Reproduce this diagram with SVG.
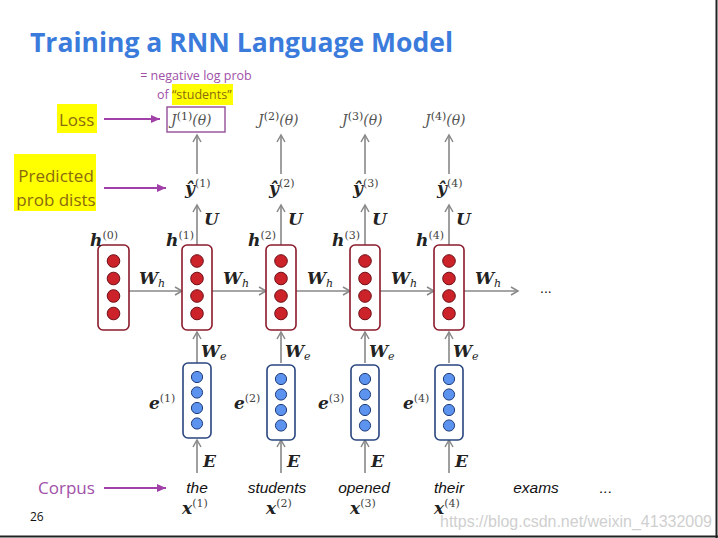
<svg xmlns="http://www.w3.org/2000/svg" width="718" height="538" viewBox="0 0 718 538">
<defs>
<marker id="ag" markerWidth="10" markerHeight="10" refX="8" refY="5" orient="auto" markerUnits="userSpaceOnUse"><path d="M1,1 L8,5 L1,9" fill="none" stroke="#888" stroke-width="1.5"/></marker>
<marker id="ap" markerWidth="10" markerHeight="10" refX="9" refY="5" orient="auto" markerUnits="userSpaceOnUse"><path d="M0,1 L9,5 L0,9 Z" fill="#a040a8"/></marker>
<g id="hcircs"><circle cx="0" cy="0" r="6.3"/><circle cx="0" cy="17.5" r="6.3"/><circle cx="0" cy="35" r="6.3"/><circle cx="0" cy="52.5" r="6.3"/></g>
<g id="ecircs"><circle cx="0" cy="0" r="5.6"/><circle cx="0" cy="15.5" r="5.6"/><circle cx="0" cy="31" r="5.6"/><circle cx="0" cy="46.5" r="5.6"/></g>
</defs>
<style>
.hb{fill:#fff;stroke:#8b1a2b;stroke-width:1.6}
.hc{fill:#cc2229;stroke:#6e1018;stroke-width:1}
.eb{fill:#fff;stroke:#28457f;stroke-width:1.6}
.ec{fill:#5b93ee;stroke:#1f3c7a;stroke-width:1}
.ar{stroke:#888;stroke-width:1.6;fill:none;marker-end:url(#ag)}
.pa{stroke:#a040a8;stroke-width:2;fill:none;marker-end:url(#ap)}
.m{font-family:"DejaVu Serif",serif;font-style:italic;font-weight:bold;fill:#222;font-size:17px}
.sup{font-family:"DejaVu Serif",serif;font-style:normal;font-weight:normal;font-size:11px;fill:#444}
.sub{font-size:11px;font-weight:normal}
.j{font-family:"DejaVu Serif",serif;font-style:italic;fill:#555;font-size:14px}
.w{font-family:"Liberation Sans",sans-serif;font-style:italic;font-size:15.5px;fill:#111;text-anchor:middle}
.lab{font-family:"Open Sans","Liberation Sans",sans-serif;font-size:17px}
</style>
<rect width="718" height="538" fill="#fff"/>
<line x1="716.5" y1="0" x2="716.5" y2="538" stroke="#222" stroke-width="2"/>
<line x1="0" y1="536.5" x2="718" y2="536.5" stroke="#222" stroke-width="2"/>

<text x="30" y="52" font-family="Open Sans,Liberation Sans,sans-serif" font-weight="bold" font-size="26" fill="#3b7bdc" textLength="423" lengthAdjust="spacingAndGlyphs">Training a RNN Language Model</text>

<g id="note">
<rect x="172" y="84" width="61" height="21" fill="#ffff00"/>
<text x="196" y="80" text-anchor="middle" font-family="Open Sans,Liberation Sans,sans-serif" font-size="12.5" fill="#a050a8">= negative log prob</text>
<text x="157" y="99" font-family="Open Sans,Liberation Sans,sans-serif" font-size="12.5" fill="#a050a8">of <tspan fill="#8a6a10">“students”</tspan></text>
</g>

<g id="loss-label">
<rect x="57" y="104" width="40" height="29" fill="#ffff00"/>
<text x="59" y="126" class="lab" fill="#8a6a10">Loss</text>
</g>
<g id="pred-label">
<rect x="14" y="154" width="82" height="57" fill="#ffff00"/>
<text x="56" y="182" class="lab" fill="#8a6a10" text-anchor="middle">Predicted</text>
<text x="56" y="206" class="lab" fill="#8a6a10" text-anchor="middle">prob dists</text>
</g>
<g id="corpus-label">
<text x="38" y="494" class="lab" fill="#a050a8">Corpus</text>
</g>

<g id="connectors">
<line class="pa" x1="104" y1="119" x2="160" y2="119"/>
<line class="pa" x1="104" y1="188" x2="166" y2="188"/>
<line class="pa" x1="104" y1="488" x2="166" y2="488"/>
<line class="ar" x1="129" y1="291" x2="182" y2="291"/>
<line class="ar" x1="212" y1="291" x2="266" y2="291"/>
<line class="ar" x1="296" y1="291" x2="350" y2="291"/>
<line class="ar" x1="380" y1="291" x2="434" y2="291"/>
<line class="ar" x1="464" y1="291" x2="518" y2="291"/>
<line class="ar" x1="197" y1="473" x2="197" y2="440"/>
<line class="ar" x1="281" y1="473" x2="281" y2="440"/>
<line class="ar" x1="365" y1="473" x2="365" y2="440"/>
<line class="ar" x1="449" y1="473" x2="449" y2="440"/>
<line class="ar" x1="197" y1="363" x2="197" y2="332"/>
<line class="ar" x1="281" y1="363" x2="281" y2="332"/>
<line class="ar" x1="365" y1="363" x2="365" y2="332"/>
<line class="ar" x1="449" y1="363" x2="449" y2="332"/>
<line class="ar" x1="197" y1="245" x2="197" y2="205"/>
<line class="ar" x1="281" y1="245" x2="281" y2="205"/>
<line class="ar" x1="365" y1="245" x2="365" y2="205"/>
<line class="ar" x1="449" y1="245" x2="449" y2="205"/>
<line class="ar" x1="197" y1="174" x2="197" y2="135"/>
<line class="ar" x1="281" y1="174" x2="281" y2="135"/>
<line class="ar" x1="365" y1="174" x2="365" y2="135"/>
<line class="ar" x1="449" y1="174" x2="449" y2="135"/>
<g class="m">
<text x="139" y="284">W<tspan class="sub" dy="3">h</tspan></text>
<text x="223" y="284">W<tspan class="sub" dy="3">h</tspan></text>
<text x="307" y="284">W<tspan class="sub" dy="3">h</tspan></text>
<text x="391" y="284">W<tspan class="sub" dy="3">h</tspan></text>
<text x="475" y="284">W<tspan class="sub" dy="3">h</tspan></text>
<text x="204" y="225">U</text><text x="288" y="225">U</text><text x="372" y="225">U</text><text x="456" y="225">U</text>
<text x="201" y="357">W<tspan class="sub" dy="3">e</tspan></text>
<text x="285" y="357">W<tspan class="sub" dy="3">e</tspan></text>
<text x="369" y="357">W<tspan class="sub" dy="3">e</tspan></text>
<text x="453" y="357">W<tspan class="sub" dy="3">e</tspan></text>
<text x="203" y="467">E</text><text x="287" y="467">E</text><text x="371" y="467">E</text><text x="455" y="467">E</text>
</g>
</g>

<text x="540" y="293" font-family="Liberation Sans,sans-serif" font-size="14" fill="#111">...</text>

<g id="h0"><rect class="hb" x="98" y="245" width="31" height="85" rx="5"/><use href="#hcircs" x="113.5" y="261" class="hc"/><text class="m" x="90" y="246">h<tspan class="sup" dy="-7">(0)</tspan></text></g>
<g id="h1"><rect class="hb" x="182" y="245" width="30" height="85" rx="5"/><use href="#hcircs" x="197" y="261" class="hc"/><text class="m" x="166" y="246">h<tspan class="sup" dy="-7">(1)</tspan></text></g>
<g id="h2"><rect class="hb" x="266" y="245" width="30" height="85" rx="5"/><use href="#hcircs" x="281" y="261" class="hc"/><text class="m" x="248" y="246">h<tspan class="sup" dy="-7">(2)</tspan></text></g>
<g id="h3"><rect class="hb" x="350" y="245" width="30" height="85" rx="5"/><use href="#hcircs" x="365" y="261" class="hc"/><text class="m" x="332" y="246">h<tspan class="sup" dy="-7">(3)</tspan></text></g>
<g id="h4"><rect class="hb" x="434" y="245" width="30" height="85" rx="5"/><use href="#hcircs" x="449" y="261" class="hc"/><text class="m" x="416" y="246">h<tspan class="sup" dy="-7">(4)</tspan></text></g>

<g id="e1"><rect class="eb" x="183" y="363" width="28" height="75" rx="5"/><use href="#ecircs" x="197" y="377" class="ec"/><text class="m" x="149" y="409">e<tspan class="sup" dy="-7">(1)</tspan></text></g>
<g id="e2"><rect class="eb" x="267" y="365" width="28" height="75" rx="5"/><use href="#ecircs" x="281" y="379" class="ec"/><text class="m" x="234" y="409">e<tspan class="sup" dy="-7">(2)</tspan></text></g>
<g id="e3"><rect class="eb" x="351" y="365" width="28" height="75" rx="5"/><use href="#ecircs" x="365" y="379" class="ec"/><text class="m" x="318" y="409">e<tspan class="sup" dy="-7">(3)</tspan></text></g>
<g id="e4"><rect class="eb" x="435" y="365" width="28" height="75" rx="5"/><use href="#ecircs" x="449" y="379" class="ec"/><text class="m" x="403" y="409">e<tspan class="sup" dy="-7">(4)</tspan></text></g>

<g id="y1"><text class="m" x="185" y="194">ŷ<tspan class="sup" dy="-7">(1)</tspan></text></g>
<g id="y2"><text class="m" x="269" y="194">ŷ<tspan class="sup" dy="-7">(2)</tspan></text></g>
<g id="y3"><text class="m" x="353" y="194">ŷ<tspan class="sup" dy="-7">(3)</tspan></text></g>
<g id="y4"><text class="m" x="437" y="194">ŷ<tspan class="sup" dy="-7">(4)</tspan></text></g>

<g id="J1"><rect x="167" y="107" width="58" height="25" fill="none" stroke="#9a5a9e" stroke-width="1.5"/><text class="j" x="171" y="125">J<tspan class="sup" dy="-5">(1)</tspan><tspan dy="5">(θ)</tspan></text></g>
<g id="J2"><text class="j" x="258" y="125">J<tspan class="sup" dy="-5">(2)</tspan><tspan dy="5">(θ)</tspan></text></g>
<g id="J3"><text class="j" x="342" y="125">J<tspan class="sup" dy="-5">(3)</tspan><tspan dy="5">(θ)</tspan></text></g>
<g id="J4"><text class="j" x="425" y="125">J<tspan class="sup" dy="-5">(4)</tspan><tspan dy="5">(θ)</tspan></text></g>

<g id="words">
<text class="w" x="197" y="493">the</text>
<text class="w" x="277" y="493">students</text>
<text class="w" x="364" y="493">opened</text>
<text class="w" x="449" y="493">their</text>
<text class="w" x="536" y="493">exams</text>
<text class="w" x="606" y="493" font-style="normal">...</text>
<text class="m" x="182" y="514">x<tspan class="sup" dy="-7">(1)</tspan></text>
<text class="m" x="266" y="514">x<tspan class="sup" dy="-7">(2)</tspan></text>
<text class="m" x="350" y="514">x<tspan class="sup" dy="-7">(3)</tspan></text>
<text class="m" x="434" y="514">x<tspan class="sup" dy="-7">(4)</tspan></text>
</g>

<text x="30" y="521" font-family="Open Sans,Liberation Sans,sans-serif" font-size="12" fill="#111">26</text>
<text x="440" y="527" font-family="Liberation Sans,sans-serif" font-size="16" fill="#cfcfcf" textLength="272" lengthAdjust="spacingAndGlyphs">https://blog.csdn.net/weixin_41332009</text>
</svg>
